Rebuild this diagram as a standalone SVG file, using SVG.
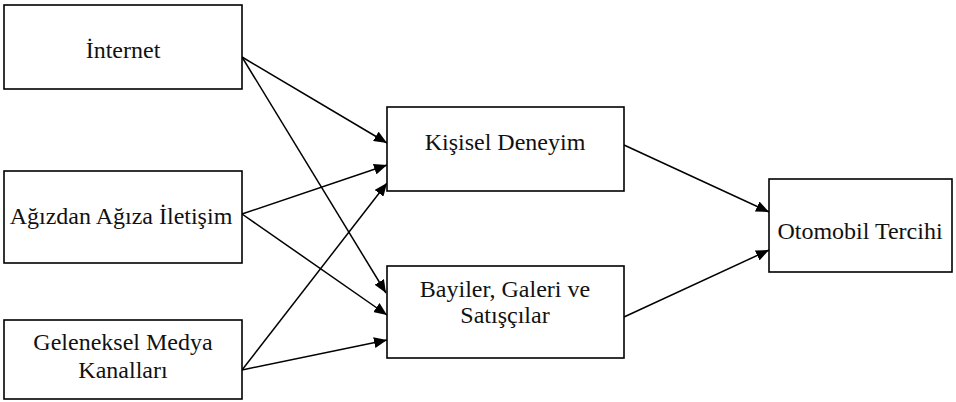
<svg xmlns="http://www.w3.org/2000/svg" width="956" height="402" viewBox="0 0 956 402">
  <style>
    .box { fill: #ffffff; stroke: #000000; stroke-width: 1.6; }
    .lbl { font-family: "Liberation Serif", "Times New Roman", serif; font-size: 24px; fill: #111111; text-anchor: middle; }
    .edge { stroke: #000000; stroke-width: 1.5; fill: none; marker-end: url(#arrow); }
  </style>
  <defs>
    <marker id="arrow" viewBox="0 0 13 11" refX="13" refY="5.5" markerWidth="13" markerHeight="11" markerUnits="userSpaceOnUse" orient="auto">
      <path d="M0,0 L13,5.5 L0,11 Z" fill="#000000"/>
    </marker>
  </defs>
  <rect width="956" height="402" fill="#ffffff"/>

  <g id="connectors">
    <line class="edge" x1="242" y1="57" x2="387" y2="143"/>
    <line class="edge" x1="242" y1="57" x2="386" y2="293"/>
    <line class="edge" x1="242" y1="214" x2="387" y2="165"/>
    <line class="edge" x1="242" y1="214" x2="387" y2="315"/>
    <line class="edge" x1="242" y1="370" x2="387" y2="183"/>
    <line class="edge" x1="242" y1="370" x2="387" y2="340"/>
    <line class="edge" x1="624" y1="145" x2="769" y2="212"/>
    <line class="edge" x1="624" y1="317" x2="769" y2="250"/>
  </g>

  <g id="internet">
    <rect class="box" x="4" y="5" width="238" height="84"/>
    <text class="lbl" x="123" y="58">İnternet</text>
  </g>
  <g id="agizdan-agiza">
    <rect class="box" x="4" y="171" width="238" height="92"/>
    <text class="lbl" x="121" y="224">Ağızdan Ağıza İletişim</text>
  </g>
  <g id="geleneksel-medya">
    <rect class="box" x="4" y="320" width="238" height="79"/>
    <text class="lbl" x="123" y="350">Geleneksel Medya</text>
    <text class="lbl" x="123" y="378">Kanalları</text>
  </g>
  <g id="kisisel-deneyim">
    <rect class="box" x="387" y="107" width="237" height="84"/>
    <text class="lbl" x="505" y="150">Kişisel Deneyim</text>
  </g>
  <g id="bayiler">
    <rect class="box" x="387" y="266" width="237" height="92"/>
    <text class="lbl" x="505" y="297">Bayiler, Galeri ve</text>
    <text class="lbl" x="505" y="323">Satışçılar</text>
  </g>
  <g id="otomobil-tercihi">
    <rect class="box" x="769" y="179" width="183" height="93"/>
    <text class="lbl" x="860" y="239">Otomobil Tercihi</text>
  </g>
</svg>
